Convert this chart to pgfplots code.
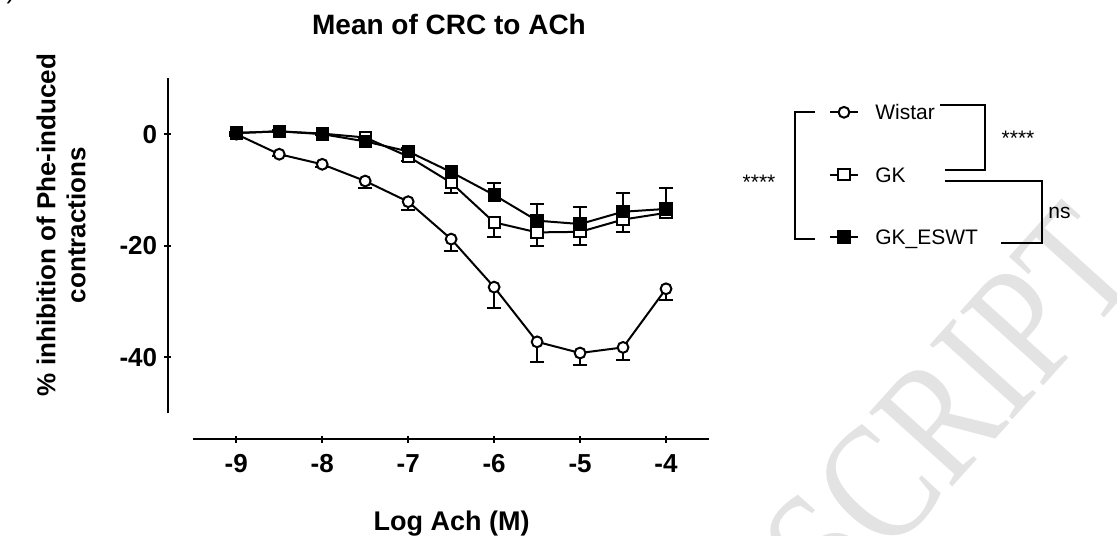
\documentclass[border=0pt]{standalone}
\usepackage{pgfplots}
\usepackage{pgfplotstable}
\pgfplotsset{compat=1.18}
\usepackage{fontspec}
\setmainfont{Liberation Sans}
\newfontfamily\wmfont{Liberation Serif}

% log [ACh] (M), mean % inhibition, SEM
\pgfplotstableread{
x     y      e
-9.0   0.0   0.3
-8.5  -3.6   0.3
-8.0  -5.4   0.4
-7.5  -8.4   1.3
-7.0  -12.1  1.5
-6.5  -18.8  2.1
-6.0  -27.4  3.8
-5.5  -37.2  3.7
-5.0  -39.2  2.2
-4.5  -38.2  2.3
-4.0  -27.7  2.0
}\wistar

\pgfplotstableread{
x     y      e
-9.0   0.2   0.2
-8.5   0.5   0.2
-8.0   0.1   0.2
-7.5  -0.6   0.5
-7.0  -4.0   0.8
-6.5  -8.7   1.8
-6.0  -15.8  2.6
-5.5  -17.6  2.4
-5.0  -17.5  2.4
-4.5  -15.3  2.2
-4.0  -14.1  0.6
}\gk

\pgfplotstableread{
x     y      e
-9.0   0.2   0.2
-8.5   0.5   0.2
-8.0   0.0   0.2
-7.5  -1.3   0.5
-7.0  -3.1   0.6
-6.5  -6.8   0.6
-6.0  -10.9  2.2
-5.5  -15.5  3.0
-5.0  -16.1  3.0
-4.5  -13.9  3.3
-4.0  -13.4  3.7
}\gkeswt

\pgfplotsset{
  every non boxed x axis/.append style={x axis line style={-}},
  every non boxed y axis/.append style={y axis line style={-}},
  prism/.style={
    scale only axis,
    anchor=south west,
    axis line style={line width=1bp, black},
    tick style={line width=1bp, black},
    major tick length=3.5bp,
    tick align=outside,
    tick label style={font=\bfseries\fontsize{13bp}{15bp}\selectfont},
  },
  semerr/.style={
    error bars/.cd, y dir=#1, y explicit,
    error bar style={line width=1bp, black, solid},
    error mark options={rotate=90, line width=1bp, black, mark size=3.6bp},
  },
}

\begin{document}
\begin{tikzpicture}
\useasboundingbox (0,0) rectangle (558.5bp,268bp);

\begin{scope}
  \clip (0,0) rectangle (558.5bp,268bp);
  \node[rotate=48, xscale=0.8, text=black!11,
        font=\wmfont\fontsize{85bp}{88bp}\selectfont]
    at (406bp,-12bp) {MANUSCRIPT};
  \node[anchor=base, font=\fontsize{13bp}{15bp}\selectfont] at (5.5bp,268.5bp) {)};
\end{scope}

% x axis, offset below the plot area
\begin{axis}[prism,
  at={(96.65bp,48.35bp)},
  width=257.85bp, height=20bp,
  xmin=-9.5, xmax=-3.5, ymin=0, ymax=1,
  axis x line=bottom, axis y line=none,
  x axis line style={-},
  xtick={-9,-8,-7,-6,-5,-4},
  xticklabels={-9,-8,-7,-6,-5,-4},
  xticklabel style={yshift=-2.5bp},
]
\end{axis}

% y axis, offset left of the plot area
\begin{axis}[prism,
  at={(83.85bp,61.35bp)},
  width=20bp, height=167.5bp,
  xmin=0, xmax=1, ymin=-50, ymax=10,
  axis y line=left, axis x line=none,
  y axis line style={-},
  ytick={-40,-20,0},
  yticklabels={-40,-20,0},
]
\end{axis}

% data
\begin{axis}[prism,
  at={(96.65bp,61.35bp)},
  width=257.85bp, height=167.5bp,
  xmin=-9.5, xmax=-3.5, ymin=-50, ymax=10,
  hide axis, clip=false,
  legend cell align=left,
  legend style={at={(1.2333,0.9212)}, anchor=north west,
    draw=none, fill=none, inner sep=0pt, outer sep=0pt,
    row sep=23.6bp, column sep=8.3bp,
    font=\fontsize{10.5bp}{12bp}\selectfont,
    nodes={inner sep=0pt, text height=7.6bp, text depth=0bp}},
  legend image code/.code={\draw[mark repeat=2,mark phase=2,#1]
    plot coordinates {(0bp,0bp) (6.85bp,0bp) (13.7bp,0bp)};},
]
\addplot[black, line width=1bp, mark=*, mark size=2.7bp,
  mark options={fill=white, draw=black, solid}, semerr=minus]
  table[x=x, y=y, y error=e] {\wistar};
\addlegendentry{Wistar}

\addplot[black, line width=1bp, mark=square*, mark size=2.8bp,
  mark options={fill=white, draw=black, solid}, semerr=minus]
  table[x=x, y=y, y error=e] {\gk};
\addlegendentry{GK}

\addplot[black, line width=1bp, mark=square*, mark size=2.8bp,
  mark options={fill=black, draw=black, solid}, semerr=plus]
  table[x=x, y=y, y error=e] {\gkeswt};
\addlegendentry{GK\_ESWT}
\end{axis}

% titles and labels
\node[anchor=base, font=\bfseries\fontsize{14bp}{16bp}\selectfont]
  at (224.5bp,250.5bp) {Mean of CRC to ACh};
\node[anchor=base, font=\bfseries\fontsize{13.5bp}{16bp}\selectfont]
  at (225.8bp,3bp) {Log Ach (M)};
\node[rotate=90, align=center, font=\bfseries\fontsize{13bp}{15bp}\selectfont]
  at (30.5bp,155.5bp) {\% inhibition of Phe-induced\\contractions};

% significance brackets
\begin{scope}[line width=1bp]
  \draw (407.5bp,212.15bp) -- (397.6bp,212.15bp) -- (397.6bp,148.35bp) -- (407.5bp,148.35bp);
  \draw (470bp,215.5bp) -- (492.5bp,215.5bp) -- (492.5bp,183bp) -- (472.5bp,183bp);
  \draw (472.5bp,177.65bp) -- (520.85bp,177.65bp) -- (520.85bp,146.65bp) -- (500.5bp,146.65bp);
\end{scope}
\begin{scope}[font=\fontsize{10.5bp}{12bp}\selectfont]
  \node[anchor=base] at (379.5bp,173bp) {****};
  \node[anchor=base] at (509bp,195bp) {****};
  \node[anchor=base west, inner sep=0pt] at (524bp,158.6bp) {ns};
\end{scope}
\end{tikzpicture}
\end{document}
